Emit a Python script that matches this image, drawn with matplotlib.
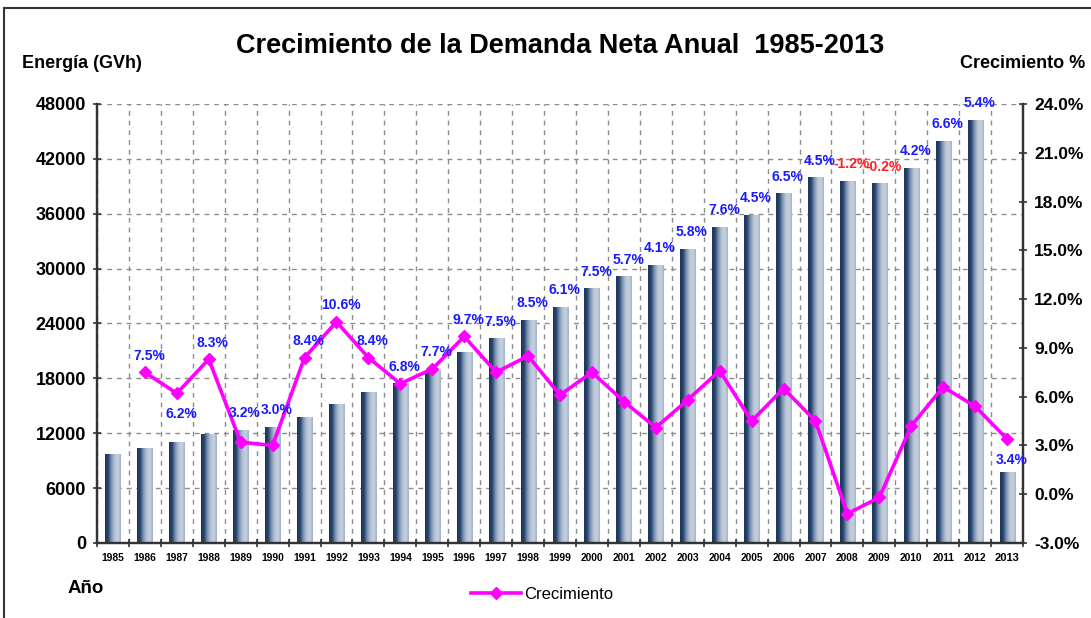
import numpy as np
import matplotlib
matplotlib.use("Agg")
import matplotlib.pyplot as plt
from matplotlib.colors import LinearSegmentedColormap
from matplotlib.lines import Line2D

# ---------------- data ----------------
years = list(range(1985, 2014))
energia = [9730, 10350, 11080, 11920, 12350, 12720, 13810, 15200, 16480, 17460,
           18950, 20840, 22370, 24420, 25800, 27840, 29150, 30430, 32180, 34590,
           35860, 38240, 39990, 39620, 39330, 41040, 43960, 46250, 7800]
crecimiento = [None, 7.5, 6.2, 8.3, 3.2, 3.0, 8.4, 10.6, 8.4, 6.8,
               7.7, 9.7, 7.5, 8.5, 6.1, 7.5, 5.7, 4.1, 5.8, 7.6,
               4.5, 6.5, 4.5, -1.2, -0.2, 4.2, 6.6, 5.4, 3.4]
left_ticks = [0, 6000, 12000, 18000, 24000, 30000, 36000, 42000, 48000]
right_ticks = [-3, 0, 3, 6, 9, 12, 15, 18, 21, 24]

plt.rcParams['font.family'] = ['Liberation Sans', 'DejaVu Sans']

fig = plt.figure(figsize=(10.91, 6.18), dpi=100)
ax = fig.add_axes([0.0889, 0.1214, 0.8488, 0.7104])
ax2 = ax.twinx()

x = np.arange(len(years))

# ---------------- bars with cylinder-like gradient ----------------
bars = ax.bar(x, energia, width=0.47, color='#a9b9cc', zorder=2)
grad = LinearSegmentedColormap.from_list(
    'cyl', ['#1b3358', '#2a466e', '#7c93b2', '#b5c3d5', '#c5d1df', '#a3b3c8'])
g = np.linspace(0, 1, 64).reshape(1, -1)
for b in bars:
    x0, y0 = b.get_x(), b.get_y()
    im = ax.imshow(g, cmap=grad, aspect='auto', zorder=2.1,
                   extent=[x0, x0 + b.get_width(), y0, y0 + b.get_height()])
    im.set_clip_path(b)

ax.set_xlim(-0.5, len(years) - 0.5)
ax.set_ylim(0, 48000)
ax.set_yticks(left_ticks)
ax.set_yticklabels([str(t) for t in left_ticks], fontsize=13, fontweight='bold')

# categories: labels at centres, ticks and grid at boundaries
ax.set_xticks(x)
ax.set_xticklabels([str(y) for y in years], fontsize=7.4, fontweight='bold')
ax.get_xticklabels()[-1].set_fontsize(8)
ax.tick_params(axis='x', which='major', length=0, pad=7)
ax.set_xticks(np.arange(-0.5, len(years)), minor=True)
ax.tick_params(axis='x', which='minor', length=6, direction='inout', width=1.2, color='#333333')
ax.tick_params(axis='y', length=6, direction='inout', width=1.2, color='#333333', pad=5)

ax.grid(True, which='minor', axis='x', linestyle=(0, (3.5, 3.5)), color='#8c8c8c', linewidth=1)
ax.grid(True, which='major', axis='y', linestyle=(0, (3.5, 3.5)), color='#8c8c8c', linewidth=1)
ax.grid(False, which='major', axis='x')
ax.set_axisbelow(True)

for a in (ax, ax2):
    a.spines['top'].set_visible(False)
    for s in ['left', 'right', 'bottom']:
        a.spines[s].set_color('#333333')
        a.spines[s].set_linewidth(1.6)

# ---------------- growth line ----------------
gx = [xi for xi, c in zip(x, crecimiento) if c is not None]
gy = [c for c in crecimiento if c is not None]
ax2.plot(gx, gy, color='#ff00ff', linewidth=2.6, marker='D', markersize=6.5, zorder=5)
ax2.set_ylim(-3, 24)
ax2.set_yticks(right_ticks)
ax2.set_yticklabels(['%.1f%%' % t for t in right_ticks], fontsize=12.5, fontweight='bold')
ax2.tick_params(axis='y', length=6, direction='inout', width=1.2, color='#333333', pad=5)

# data labels
for xi, e, c in zip(x, energia, crecimiento):
    if c is None:
        continue
    bar_top = -3 + e / 48000 * 27
    if years[xi] in (1987, 2013):
        yref, off = c, -15
    else:
        yref, off = max(c, bar_top), 12
    ax2.annotate('%.1f%%' % c, (xi, yref), xytext=(3, off), textcoords='offset points',
                 ha='center', va='center', fontsize=10, fontweight='bold',
                 color='#ff2020' if c < 0 else '#1a1aff', zorder=6)

# ---------------- titles and texts ----------------
fig.text(0.513, 0.925, 'Crecimiento de la Demanda Neta Anual  1985-2013',
         ha='center', va='center', fontsize=19.5, fontweight='bold')
fig.text(0.020, 0.898, 'Energía (GVh)', ha='left', va='center', fontsize=13, fontweight='bold')
fig.text(0.995, 0.898, 'Crecimiento %', ha='right', va='center', fontsize=13, fontweight='bold')
fig.text(0.062, 0.048, 'Año', ha='left', va='center', fontsize=13.5, fontweight='bold')

handle = Line2D([], [], color='#ff00ff', linewidth=2.6, marker='D', markersize=6.5)
fig.legend([handle], ['Crecimiento'], loc='center', bbox_to_anchor=(0.497, 0.038),
           frameon=False, fontsize=12, handlelength=3.0, handletextpad=0.2)

# outer frame (top and left edges visible in the crop)
fig.add_artist(Line2D([0.004, 1.0], [0.987, 0.987], transform=fig.transFigure,
                      color='#333333', linewidth=1.5))
fig.add_artist(Line2D([0.004, 0.004], [0.0, 0.987], transform=fig.transFigure,
                      color='#333333', linewidth=1.5))

fig.savefig('out.png', dpi=100)
